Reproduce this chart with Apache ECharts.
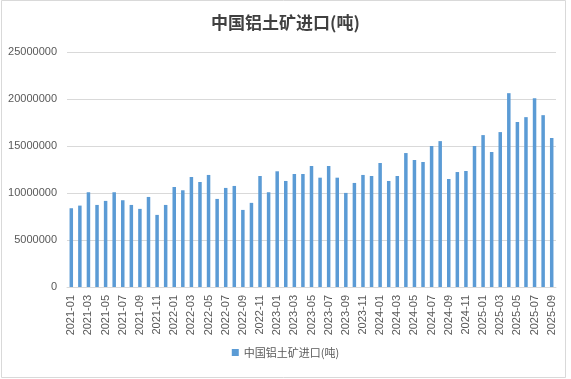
<!DOCTYPE html>
<html>
<head>
<meta charset="utf-8">
<script src="https://cdn.jsdelivr.net/npm/echarts@6/dist/echarts.min.js"></script>
<style>
html,body{margin:0;padding:0;background:#fff;}
#c{width:571px;height:379px;}
</style>
</head>
<body>
<div id="c"></div>
<script>
const categories = [
  '2021-01','2021-02','2021-03','2021-04','2021-05','2021-06','2021-07','2021-08','2021-09','2021-10','2021-11','2021-12',
  '2022-01','2022-02','2022-03','2022-04','2022-05','2022-06','2022-07','2022-08','2022-09','2022-10','2022-11','2022-12',
  '2023-01','2023-02','2023-03','2023-04','2023-05','2023-06','2023-07','2023-08','2023-09','2023-10','2023-11','2023-12',
  '2024-01','2024-02','2024-03','2024-04','2024-05','2024-06','2024-07','2024-08','2024-09','2024-10','2024-11','2024-12',
  '2025-01','2025-02','2025-03','2025-04','2025-05','2025-06','2025-07','2025-08','2025-09'
];
const imports = [
  8380000, 8660000, 10080000, 8730000, 9160000, 10080000, 9230000, 8730000, 8310000, 9580000, 7670000, 8730000,
  10640000, 10290000, 11700000, 11170000, 11920000, 9370000, 10540000, 10750000, 8200000, 8950000, 11810000, 10080000,
  12310000, 11280000, 12020000, 12020000, 12870000, 11630000, 12870000, 11630000, 10010000, 11070000, 11920000, 11810000,
  13190000, 11280000, 11810000, 14250000, 13510000, 13300000, 14990000, 15520000, 11490000, 12230000, 12340000, 14990000,
  16160000, 14360000, 16480000, 20620000, 17540000, 18070000, 20080000, 18280000, 15840000
];
const yTicks = [0, 5000000, 10000000, 15000000, 20000000, 25000000];
const seriesName = '中国铝土矿进口(吨)';
const titleText = '中国铝土矿进口(吨)';

const chart = echarts.init(document.getElementById('c'), null, {renderer: 'canvas'});
chart.setOption({
  animation: false,
  backgroundColor: '#fff',
  graphic: [{
    type: 'rect', silent: true,
    shape: {x: 1.5, y: 0.5, width: 564, height: 377},
    style: {fill: 'none', stroke: '#d9d9d9', lineWidth: 1}
  }],
  title: {
    text: titleText, left: 'center', top: 9,
    textStyle: {fontFamily: 'Noto Sans CJK SC', fontSize: 17, fontWeight: 'bold', color: '#404040'}
  },
  legend: {
    bottom: 16, left: 'center', itemWidth: 7, itemHeight: 7, itemGap: 6,
    icon: 'rect',
    textStyle: {fontFamily: 'Noto Sans CJK SC', fontSize: 11, color: '#595959'},
    data: [seriesName]
  },
  grid: {left: 67, right: 15, top: 52, bottom: 92, containLabel: false},
  xAxis: {
    type: 'category', data: categories,
    axisLine: {lineStyle: {color: '#d9d9d9'}},
    axisTick: {show: false},
    axisLabel: {interval: 1, rotate: 90, fontFamily: 'Liberation Sans', fontSize: 11, color: '#595959', margin: 8}
  },
  yAxis: {
    type: 'value', min: yTicks[0], max: yTicks[yTicks.length - 1], interval: yTicks[1] - yTicks[0],
    axisLine: {show: false}, axisTick: {show: false},
    splitLine: {lineStyle: {color: '#d9d9d9'}},
    axisLabel: {fontFamily: 'Liberation Sans', fontSize: 11, color: '#595959', margin: 10,
      formatter: function (v) { return String(v); }}
  },
  series: [{
    name: seriesName, type: 'bar', data: imports, barWidth: 3.5,
    itemStyle: {color: '#5b9bd5'}
  }]
});
</script>
</body>
</html>
